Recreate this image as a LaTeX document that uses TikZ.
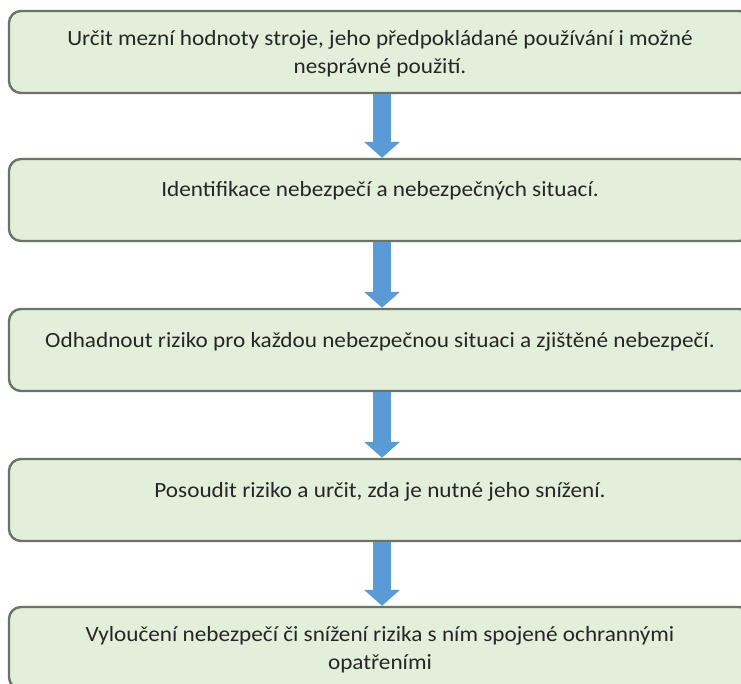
\documentclass[tikz,border=0pt]{standalone}
\usepackage{fontspec}
\setmainfont{Carlito}[FakeStretch=1.07]
\usetikzlibrary{positioning}
\usetikzlibrary{arrows.meta}
\definecolor{boxfill}{RGB}{226,239,218}
\definecolor{boxline}{RGB}{108,116,104}
\definecolor{arrowblue}{RGB}{91,155,213}
\definecolor{textgray}{RGB}{38,38,38}
\tikzset{
    boxn/.style = {rectangle, rounded corners=12pt, line width=2.4pt, draw=boxline, fill=boxfill,
                   minimum width=742pt, minimum height=82pt, align=center, text=textgray,
                   text depth=0pt, font=\fontsize{21.7}{28}\selectfont},
    boxs/.style = {boxn, text height=16pt, text depth=22pt}, % one line
    edgeb/.style = {-{Triangle[width=35pt,length=16pt]}, line width=18pt, arrowblue}
}

\begin{document}
\begin{tikzpicture}[x=1pt,y=-1pt]
\useasboundingbox (0,0) rectangle (741,684);
\node[boxn] at (380, 52) (b1) {Určit mezní hodnoty stroje, jeho předpokládané používání i možné\\nesprávné použití.};
\node[boxs] at (380,200) (b2) {Identifikace nebezpečí a nebezpečných situací.};
\node[boxs] at (380,350) (b3) {Odhadnout riziko pro každou nebezpečnou situaci a zjištěné nebezpečí.};
\node[boxs] at (380,500) (b4) {Posoudit riziko a určit, zda je nutné jeho snížení.};
\node[boxn] at (380,648) (b5) {Vyloučení nebezpečí či snížení rizika s ním spojené ochrannými\\opatřeními};
%
\draw[edgeb] ([xshift=2pt]b1.south) -- ([xshift=2pt]b2.north);
\draw[edgeb] ([xshift=2pt]b2.south) -- ([xshift=2pt]b3.north);
\draw[edgeb] ([xshift=2pt]b3.south) -- ([xshift=2pt]b4.north);
\draw[edgeb] ([xshift=2pt]b4.south) -- ([xshift=2pt]b5.north);

\end{tikzpicture}
\end{document}
